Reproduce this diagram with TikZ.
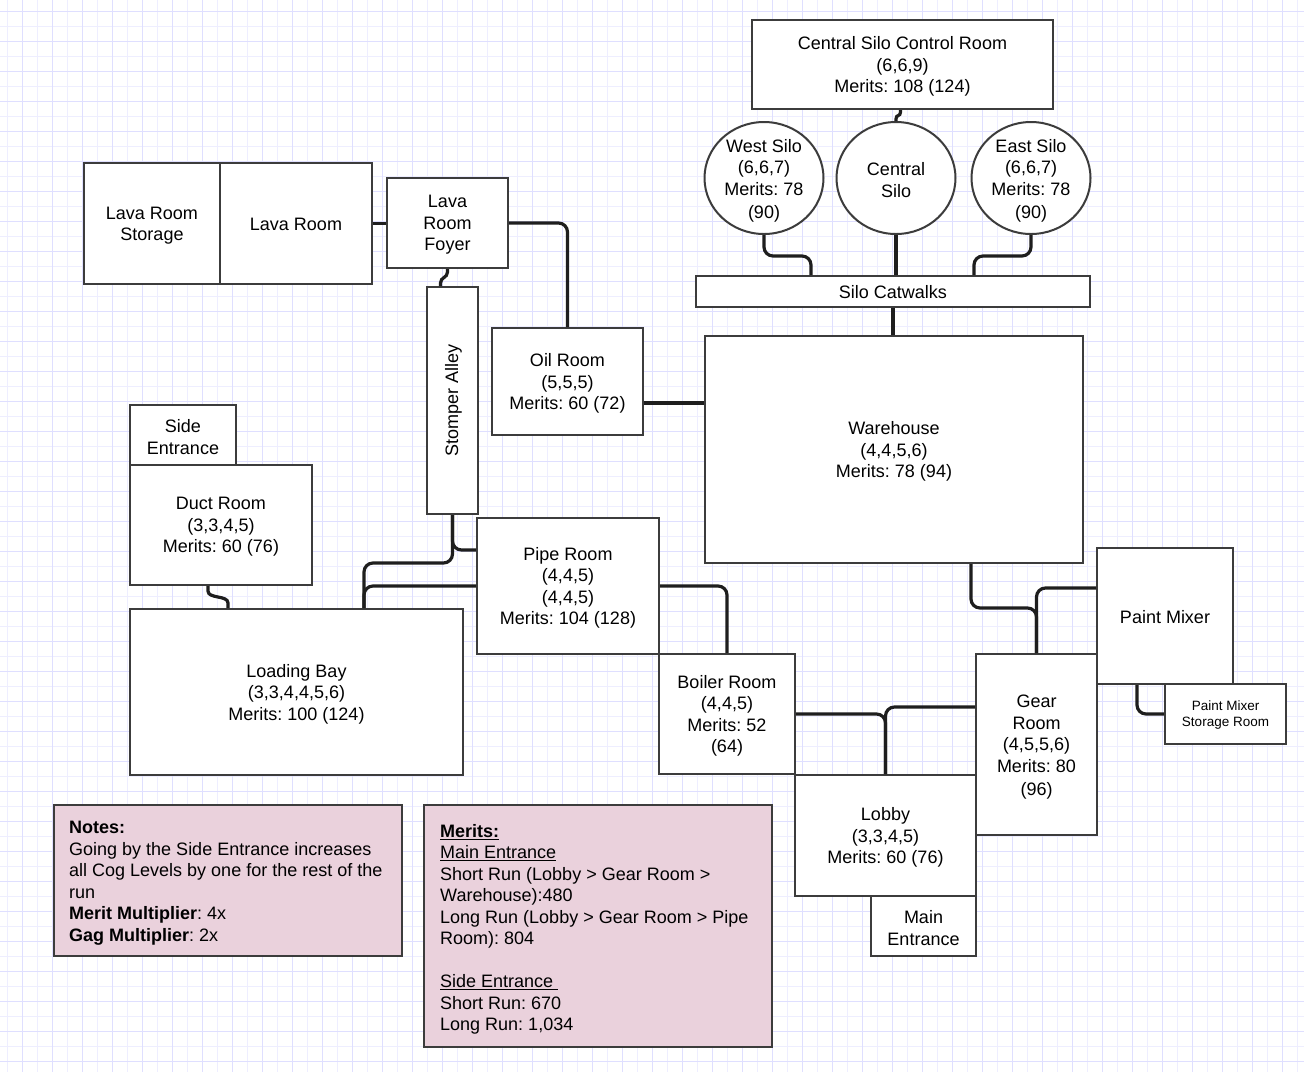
\documentclass[tikz,border=0pt]{standalone}
\usepackage{fontspec}
\setmainfont{Liberation Sans}
\usetikzlibrary{shapes.geometric,calc}
\definecolor{gridminor}{HTML}{EEEEFF}
\definecolor{gridmajor}{HTML}{DFDFFF}
\definecolor{bordercol}{HTML}{3C3C3C}
\definecolor{conncol}{HTML}{1E1E1E}
\definecolor{notefill}{HTML}{EAD1DC}
\newcommand{\mainfs}{\fontsize{18}{21.5}\selectfont\frenchspacing}
\newcommand{\smallfs}{\fontsize{13.5}{16}\selectfont\frenchspacing}
\tikzset{
  room/.style={draw=bordercol, line width=2pt, fill=white, inner sep=0pt},
  rt/.style={font=\mainfs, align=center, inner sep=0pt, yshift=-2pt},
  silo/.style={room, ellipse, minimum width=119pt, minimum height=112pt},
  notebox/.style={draw=bordercol, line width=2pt, fill=notefill, inner sep=0pt},
  notetext/.style={anchor=north west, inner sep=0pt, align=left, font=\mainfs},
  conn/.style={draw=conncol, line width=3.2pt, rounded corners=9pt},
  jog/.style={draw=conncol, line width=3.2pt}
}
\frenchspacing
\begin{document}
\begin{tikzpicture}[x=1pt,y=-1pt]
\useasboundingbox (0,0) rectangle (1304,1072);
\fill[white] (0,0) rectangle (1304,1072);
% grid
\foreach \x in {7.7,37.7,...,1304} \draw[gridminor, line width=1pt] (\x,0) -- (\x,1072);
\foreach \y in {26,56,...,1072} \draw[gridminor, line width=1pt] (0,\y) -- (1304,\y);
\foreach \x in {22.7,52.7,...,1304} \draw[gridmajor, line width=1pt] (\x,0) -- (\x,1072);
\foreach \y in {11,41,...,1072} \draw[gridmajor, line width=1pt] (0,\y) -- (1304,\y);

% rooms
\node[room, minimum width=301pt, minimum height=89pt, label={[rt]center:{Central Silo Control Room\\(6,6,9)\\Merits: 108 (124)}}] (ctrl) at (902.5,64.5) {};
\node[silo, label={[rt, yshift=-1pt]center:{West Silo\\(6,6,7)\\Merits: 78\\[2pt](90)}}] (wsilo) at (764,178) {};
\node[silo, label={[rt]center:{Central\\Silo}}] (csilo) at (896,178) {};
\node[silo, label={[rt, yshift=-1pt]center:{East Silo\\(6,6,7)\\Merits: 78\\[2pt](90)}}] (esilo) at (1031,178) {};
\node[room, minimum width=394pt, minimum height=31pt, label={[rt, yshift=1pt]center:{Silo Catwalks}}] (catwalks) at (893,291.5) {};
\node[room, minimum width=378pt, minimum height=227pt, label={[rt]center:{Warehouse\\(4,4,5,6)\\Merits: 78 (94)}}] (warehouse) at (894,449.5) {};
\node[room, minimum width=136pt, minimum height=121pt, label={[rt]center:{Lava Room\\Storage}}] (lavastorage) at (152,223.5) {};
\node[room, minimum width=152pt, minimum height=121pt, label={[rt, yshift=1pt]center:{Lava Room}}] (lava) at (296,223.5) {};
\node[room, minimum width=121pt, minimum height=90pt, label={[rt]center:{Lava\\Room\\Foyer}}] (foyer) at (447.5,223) {};
\node[room, minimum width=51pt, minimum height=227pt] (stomper) at (452.5,400.5) {};
\node[rotate=90, font=\mainfs, inner sep=0pt] (stompertext) at ([xshift=1pt]stomper.center) {Stomper Alley};
\node[room, minimum width=151pt, minimum height=107pt, label={[rt]center:{Oil Room\\(5,5,5)\\Merits: 60 (72)}}] (oil) at (567.5,381.5) {};
\node[room, minimum width=106pt, minimum height=60pt, label={[rt]center:{Side\\Entrance}}] (side) at (183,435) {};
\node[room, minimum width=182pt, minimum height=120pt, label={[rt]center:{Duct Room\\(3,3,4,5)\\Merits: 60 (76)}}] (duct) at (221,525) {};
\node[room, minimum width=333pt, minimum height=166pt, label={[rt]center:{Loading Bay\\(3,3,4,4,5,6)\\Merits: 100 (124)}}] (loading) at (296.5,692) {};
\node[room, minimum width=182pt, minimum height=136pt, label={[rt]center:{Pipe Room\\(4,4,5)\\(4,4,5)\\Merits: 104 (128)}}] (pipe) at (568,586) {};
\node[room, minimum width=136pt, minimum height=120pt, label={[rt]center:{Boiler Room\\(4,4,5)\\Merits: 52\\(64)}}] (boiler) at (727,714) {};
\node[room, minimum width=181pt, minimum height=121pt, label={[rt]center:{Lobby\\(3,3,4,5)\\Merits: 60 (76)}}] (lobby) at (885.5,835.5) {};
\node[room, minimum width=105pt, minimum height=60pt, label={[rt]center:{Main\\Entrance}}] (mainent) at (923.5,926) {};
\node[room, minimum width=121pt, minimum height=181pt, label={[rt, yshift=-1pt]center:{Gear\\Room\\(4,5,5,6)\\Merits: 80\\[2pt](96)}}] (gear) at (1036.5,744.5) {};
\node[room, minimum width=136pt, minimum height=136pt, label={[rt, yshift=1pt]center:{Paint Mixer}}] (paint) at (1165,616) {};
\node[room, minimum width=121pt, minimum height=60pt, label={[rt, font=\smallfs, yshift=1pt]center:{Paint Mixer\\Storage Room}}] (pstorage) at (1225.5,714) {};

% notes
\node[notebox, minimum width=348pt, minimum height=151pt] (notes) at (228,880.5) {};
\node[notetext] (notestext) at (69,821) {\textbf{Notes:}\\
Going by the Side Entrance increases\\
all Cog Levels by one for the rest of the\\
run\\
\textbf{Merit Multiplier}: 4x\\
\textbf{Gag Multiplier}: 2x};
\node[notebox, minimum width=348pt, minimum height=242pt] (merits) at (598,926) {};
\node[notetext] (meritstext) at (440,824) {\underline{\textbf{Merits:}}\\
\underline{Main Entrance}\\
Short Run (Lobby > Gear Room >\\
Warehouse):480\\
Long Run (Lobby > Gear Room > Pipe\\
Room): 804\\[21.5pt]
\underline{Side Entrance\ }\\
Short Run: 670\\
Long Run: 1,034};

% connectors
\draw[jog] ([xshift=-2pt]ctrl.south) -- ++(0,2) .. controls +(0,5) and +(0,-5) .. ($(csilo.north)+(0,-2)$) -- (csilo.north);
\draw[conn] (wsilo.south) -- ++(0,21) -| ([xshift=-82pt]catwalks.north);
\draw[conn] (csilo.south) -- (csilo.south |- catwalks.north);
\draw[conn] (esilo.south) -- ++(0,21) -| ([xshift=81pt]catwalks.north);
\draw[conn] (catwalks.south) -- (catwalks.south |- warehouse.north);
\draw[conn] (lava.east) -- (lava.east -| foyer.west);
\draw[conn] (foyer.east) -| (oil.north);
\draw[jog] (foyer.south) -- ++(0,3) .. controls +(0,6) and +(0,-6) .. ($([xshift=-12pt]stomper.north)+(0,-3)$) -- ([xshift=-12pt]stomper.north);
\draw[conn] ([yshift=-21.5pt]oil.east) -- ([yshift=-21.5pt]oil.east -| warehouse.west);
\draw[conn] (stomper.south) |- ([yshift=36pt]pipe.west);
\draw[conn] (stomper.south) -- ++(0,48) -| ([xshift=67.5pt]loading.north);
\draw[conn] (pipe.west) -| ([xshift=67.5pt]loading.north);
\draw[jog] ([xshift=-13pt]duct.south) -- ++(0,5) .. controls +(0,8) and +(0,-8) .. ($([xshift=-68.5pt]loading.north)+(0,-5)$) -- ([xshift=-68.5pt]loading.north);
\draw[conn] (pipe.east) -| (boiler.north);
\draw[conn] ([xshift=77pt]warehouse.south) -- ++(0,44) -| (gear.north);
\draw[conn] ([yshift=28pt]paint.west) -| (gear.north);
\draw[conn] (boiler.east) -| (lobby.north);
\draw[conn] ([yshift=37.5pt]gear.west) -| (lobby.north);
\draw[conn] ([xshift=-28pt]paint.south) |- (pstorage.west);
\end{tikzpicture}
\end{document}
